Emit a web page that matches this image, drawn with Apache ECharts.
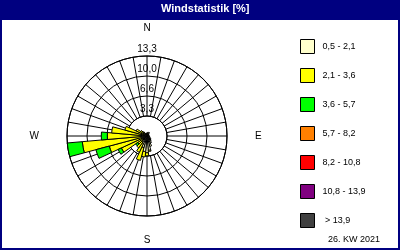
<!DOCTYPE html>
<html><head><meta charset="utf-8">
<script src="https://cdn.jsdelivr.net/npm/echarts@6/dist/echarts.min.js"></script>
<style>html,body{margin:0;padding:0;background:#fff}#c{width:400px;height:250px}</style>
</head><body><div id="c"></div>
<script>
const directions = ['0','10','20','30','40','50','60','70','80','90','100','110','120','130','140','150','160','170',
  '180','190','200','210','220','230','240','250','260','270','280','290','300','310','320','330','340','350'];
const classNames = ['0,5 - 2,1','2,1 - 3,6','3,6 - 5,7','5,7 - 8,2','8,2 - 10,8','10,8 - 13,9',' > 13,9'];
const classColors = ['#FFFFCC','#FFFF00','#00FF00','#FF8000','#FF0000','#800080','#404040'];
// values per direction (0..350 deg), percent
const speed1 = [0.5,0.6,0.5,0.7,0.5,0.4,0.3,0.3,0.3,0.4,0.4,0.5,0.6,0.8,1.0,1.3,1.8,2.4,
  2.8,2.6,2.0,1.4,1.2,1.0,0.9,0.9,0.9,0.8,0.7,0.6,0.5,0.5,0.6,0.5,0.4,0.5];
const speed2 = [0,0,0,0,0,0,0,0,0,0,0,0,0,0,0,0,0,0.2,
  0.5,0.9,2.2,1.6,1.2,0.9,3.8,5.6,9.9,5.8,5.2,3.2,1.5,0.8,0.3,0,0,0];
const speed3 = [0,0,0,0,0,0,0,0,0,0,0,0,0,0,0,0,0,0,
  0,0,0,0,0,0.4,0.6,2.3,2.5,1.0,0,0,0,0,0,0,0,0];
const speed4 = [0,0,0,0,0,0,0,0,0,0,0,0,0,0,0,0,0,0,0,0,0,0,0,0,0,0,0,0,0,0,0,0,0,0,0,0];
const speed5 = [0,0,0,0,0,0,0,0,0,0,0,0,0,0,0,0,0,0,0,0,0,0,0,0,0,0,0,0,0,0,0,0,0,0,0,0];
const speed6 = [0,0,0,0,0,0,0,0,0,0,0,0,0,0,0,0,0,0,0,0,0,0,0,0,0,0,0,0,0,0,0,0,0,0,0,0];
const speed7 = [0,0,0,0,0,0,0,0,0,0,0,0,0,0,0,0,0,0,0,0,0,0,0,0,0,0,0,0,0,0,0,0,0,0,0,0];
const classData = [speed1,speed2,speed3,speed4,speed5,speed6,speed7];
const ringValues = [3.325, 6.65, 9.975, 13.3];
const ringLabels = ['3,3','6,6','10,0','13,3'];
const compassAngles = [0, 90, 180, 270];
const compassLabels = ['N','E','S','W'];
const compassStyles = ['n','e','s','w'];
const titleText = 'Windstatistik [%]';
const footerText = '26. KW 2021';

const FONT = 'Liberation Sans';
const chart = echarts.init(document.getElementById('c'), null, {renderer:'canvas'});
const series = classData.map((arr, i) => ({
  type:'bar', coordinateSystem:'polar', polarIndex:1, name:classNames[i], stack:'w',
  barCategoryGap:'0%',
  data: arr.map(v => v === 0 ? '-' : v),
  itemStyle:{color:classColors[i], borderColor:'#000', borderWidth:1, opacity:1},
  emphasis:{disabled:true}, silent:true, z:3
}));
series.push({
  type:'scatter', coordinateSystem:'polar', polarIndex:1, symbolSize:0, silent:true, z:10,
  itemStyle:{opacity:1},
  emphasis:{disabled:true},
  data: ringValues.map(v => [v, directions[0]]),
  label:{show:true, position:'top', distance:2, color:'#000', opacity:1, fontFamily:FONT, fontSize:10,
    formatter: p => ringLabels[p.dataIndex]}
});
chart.setOption({
  backgroundColor:'#fff',
  animation:false,
  graphic:[
    {type:'rect', shape:{x:0,y:0,width:400,height:20}, style:{fill:'#000080'}, z:-1},
    {type:'rect', shape:{x:1,y:1,width:398,height:248}, style:{fill:null, stroke:'#000080', lineWidth:2}, z:-1}
  ],
  title:[
    {text:titleText, left:161, top:3, padding:0, textStyle:{color:'#fff', fontSize:11, fontWeight:'bold', fontFamily:FONT}},
    {text:footerText, left:328, top:235, padding:0, textStyle:{color:'#000', fontSize:9, fontWeight:'normal', fontFamily:FONT}}
  ],
  legend:{
    data:classNames, orient:'vertical', left:295, top:34, itemWidth:14, itemHeight:14, itemGap:14,
    icon:'rect', selectedMode:false,
    itemStyle:{borderColor:'#000', borderWidth:1},
    textStyle:{color:'#000', fontSize:9, fontFamily:FONT, padding:[0,0,0,3]}
  },
  polar:[{center:[147,136], radius:[20,80]}, {center:[147,136], radius:[0,80]}],
  angleAxis:[
    {polarIndex:0, type:'value', min:0, max:360, interval:10, startAngle:90, clockwise:true,
     axisLine:{show:true, lineStyle:{color:'#000', width:1}}, axisTick:{show:false},
     splitLine:{show:true, lineStyle:{color:'#000', width:1}},
     axisLabel:{show:true, margin:19, color:'#000', fontSize:10, fontFamily:FONT,
       rich:{
         n:{fontSize:10, fontFamily:FONT, color:'#000', padding:[0,0,4,0]},
         e:{fontSize:10, fontFamily:FONT, color:'#000', padding:[0,0,0,9]},
         s:{fontSize:10, fontFamily:FONT, color:'#000'},
         w:{fontSize:10, fontFamily:FONT, color:'#000', padding:[0,9,0,0]}
       },
       formatter: v => { const k = compassAngles.indexOf(v); return k >= 0 ? '{' + compassStyles[k] + '|' + compassLabels[k] + '}' : ''; }}},
    {polarIndex:1, type:'category', data:directions, startAngle:95, clockwise:true, boundaryGap:true,
     axisLine:{show:false}, axisTick:{show:false}, axisLabel:{show:false}, splitLine:{show:false}}
  ],
  radiusAxis:[
    {polarIndex:0, type:'value', min:3.325, max:13.3, interval:3.325,
     axisLine:{show:false}, axisTick:{show:false}, axisLabel:{show:false},
     splitLine:{show:true, lineStyle:{color:'#000', width:1}}},
    {polarIndex:1, type:'value', min:0, max:13.3,
     axisLine:{show:false}, axisTick:{show:false}, axisLabel:{show:false}, splitLine:{show:false}}
  ],
  series
});
</script></body></html>
